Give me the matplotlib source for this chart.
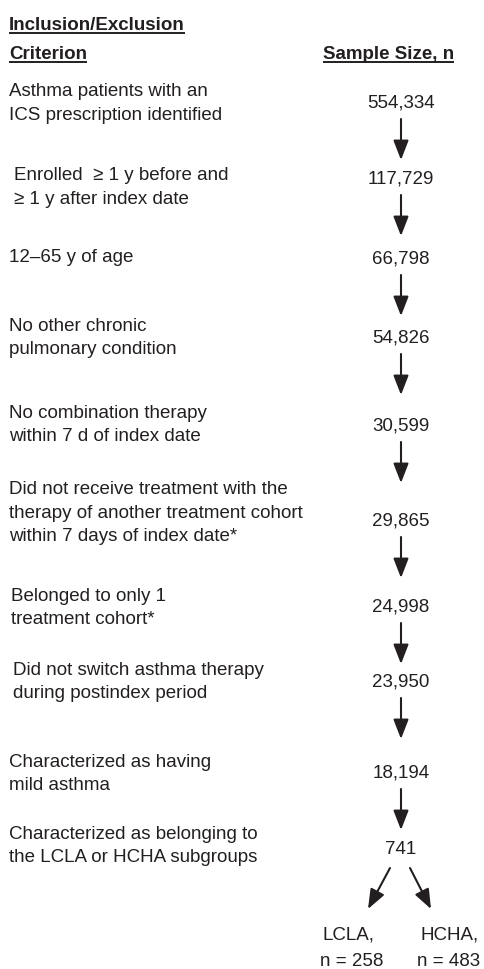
import matplotlib
matplotlib.use("Agg")
import matplotlib.pyplot as plt

plt.rcParams['font.family'] = ['Liberation Sans', 'DejaVu Sans']

# flowchart content
criteria = [
    "Asthma patients with an\nICS prescription identified",
    "Enrolled  \u2265 1 y before and\n\u2265 1 y after index date",
    "12\u201365 y of age",
    "No other chronic\npulmonary condition",
    "No combination therapy\nwithin 7 d of index date",
    "Did not receive treatment with the\ntherapy of another treatment cohort\nwithin 7 days of index date*",
    "Belonged to only 1\ntreatment cohort*",
    "Did not switch asthma therapy\nduring postindex period",
    "Characterized as having\nmild asthma",
    "Characterized as belonging to\nthe LCLA or HCHA subgroups",
]
sample_sizes = [554334, 117729, 66798, 54826, 30599, 29865, 24998, 23950, 18194, 741]
subgroups = ["LCLA", "HCHA"]
subgroup_n = [258, 483]

# layout (pixel coords, y downwards)
W, H = 484, 969
text_x = [9, 14, 9, 9, 9, 9, 11, 13, 9, 9]
text_y = [103.5, 187.5, 258, 338, 425, 513, 608, 682, 774, 846]
num_y = [103, 179, 259, 338, 426, 521, 607, 682, 773, 850]
num_x = 401
col = '#231f20'
fs = 13.5

fig = plt.figure(figsize=(W / 100, H / 100), dpi=100)
ax = fig.add_axes([0, 0, 1, 1])
ax.set_xlim(0, W)
ax.set_ylim(H, 0)
ax.axis('off')

heads = [
    ax.text(9, 30, "Inclusion/Exclusion", fontsize=fs, fontweight='bold', color=col, va='baseline'),
    ax.text(9, 58.5, "Criterion", fontsize=fs, fontweight='bold', color=col, va='baseline'),
    ax.text(323, 58.5, "Sample Size, n", fontsize=fs, fontweight='bold', color=col, va='baseline'),
]

for i, crit in enumerate(criteria):
    ax.text(text_x[i], text_y[i], crit, fontsize=fs, color=col, va='center', ha='left', linespacing=1.5)
    ax.text(num_x, num_y[i], f"{sample_sizes[i]:,}", fontsize=fs, color=col, va='center', ha='center')

arrow_kw = dict(arrowstyle='-|>,head_length=0.85,head_width=0.33', lw=1.5, color=col,
                shrinkA=0, shrinkB=0, mutation_scale=14)
for i in range(len(sample_sizes) - 1):
    y0 = num_y[i] + 16
    ax.annotate("", xy=(num_x, y0 + 41), xytext=(num_x, y0), arrowprops=arrow_kw)

# split into subgroups
ax.annotate("", xy=(368, 909), xytext=(390, 868), arrowprops=arrow_kw)
ax.annotate("", xy=(431, 909), xytext=(410, 868), arrowprops=arrow_kw)
sub_x = [323, 420]
for i, name in enumerate(subgroups):
    ax.text(sub_x[i], 935, name + ",", fontsize=fs, color=col, va='center', ha='left')
    ax.text(sub_x[i] - 3, 961, f"n = {subgroup_n[i]}", fontsize=fs, color=col, va='center', ha='left')

# underline the headers
fig.canvas.draw()
inv = ax.transData.inverted()
for t in heads:
    bb = t.get_window_extent()
    x0, _ = inv.transform((bb.x0, bb.y0))
    x1, _ = inv.transform((bb.x1, bb.y1))
    yb = t.get_position()[1] + 3
    ax.plot([x0, x1], [yb, yb], color=col, lw=1.4, solid_capstyle='butt')

fig.savefig("out.png", dpi=100)
